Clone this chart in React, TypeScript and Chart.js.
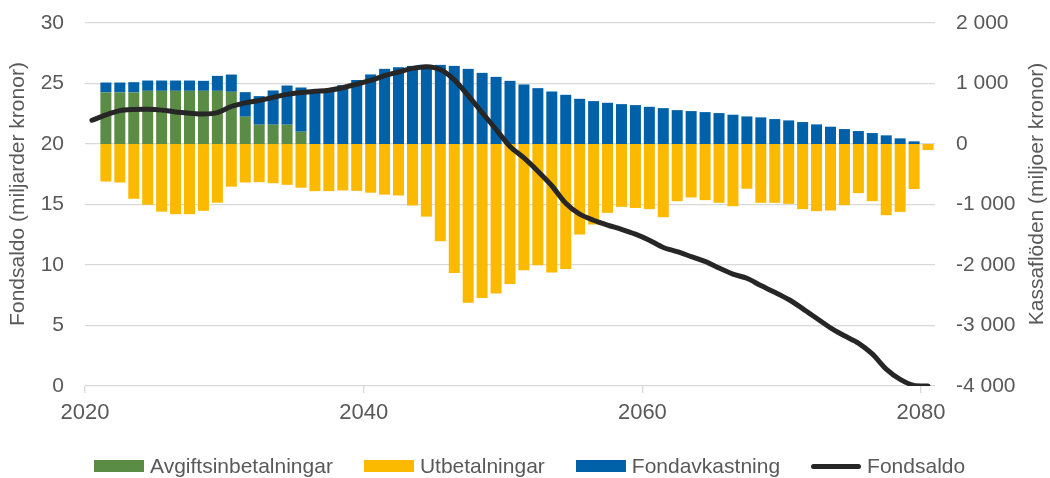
import React, { useEffect, useRef } from "react";
import { Chart, registerables } from "chart.js";

Chart.register(...registerables);

// Bar years (cash flows), 2021..2080
const barYears = [
  2021, 2022, 2023, 2024, 2025, 2026, 2027, 2028, 2029, 2030,
  2031, 2032, 2033, 2034, 2035, 2036, 2037, 2038, 2039, 2040,
  2041, 2042, 2043, 2044, 2045, 2046, 2047, 2048, 2049, 2050,
  2051, 2052, 2053, 2054, 2055, 2056, 2057, 2058, 2059, 2060,
  2061, 2062, 2063, 2064, 2065, 2066, 2067, 2068, 2069, 2070,
  2071, 2072, 2073, 2074, 2075, 2076, 2077, 2078, 2079, 2080,
];

// Fund balance years, 2020..2080
const lineYears = [
  2020, 2021, 2022, 2023, 2024, 2025, 2026, 2027, 2028, 2029, 2030,
  2031, 2032, 2033, 2034, 2035, 2036, 2037, 2038, 2039, 2040,
  2041, 2042, 2043, 2044, 2045, 2046, 2047, 2048, 2049, 2050,
  2051, 2052, 2053, 2054, 2055, 2056, 2057, 2058, 2059, 2060,
  2061, 2062, 2063, 2064, 2065, 2066, 2067, 2068, 2069, 2070,
  2071, 2072, 2073, 2074, 2075, 2076, 2077, 2078, 2079, 2080,
];

// miljoner kronor
const avgiftsinbetalningar = [
  852, 852, 852, 879, 879, 879, 879, 879, 879, 863,
  451, 319, 319, 319, 203, 0, 0, 0, 0, 0,
  0, 0, 0, 0, 0, 0, 0, 0, 0, 0,
  0, 0, 0, 0, 0, 0, 0, 0, 0, 0,
  0, 0, 0, 0, 0, 0, 0, 0, 0, 0,
  0, 0, 0, 0, 0, 0, 0, 0, 0, 0,
];

const utbetalningar = [
  -620, -636, -906, -1005, -1118, -1160, -1160, -1105, -970, -705,
  -636, -630, -648, -675, -722, -779, -779, -768, -775, -805,
  -837, -851, -1016, -1200, -1608, -2133, -2624, -2547, -2470, -2315,
  -2088, -2006, -2122, -2066, -1497, -1331, -1138, -1039, -1058, -1077,
  -1210, -945, -884, -928, -972, -1028, -740, -972, -972, -989,
  -1077, -1110, -1099, -1011, -812, -945, -1177, -1122, -744, -100,
];

const fondavkastning = [
  164, 164, 170, 170, 170, 170, 170, 165, 247, 285,
  406, 472, 566, 648, 731, 860, 880, 973, 1058, 1150,
  1242, 1269, 1291, 1297, 1308, 1291, 1242, 1176, 1110, 1044,
  984, 923, 868, 813, 747, 709, 681, 659, 643, 615,
  593, 560, 544, 527, 511, 484, 456, 440, 412, 390,
  363, 324, 286, 247, 214, 181, 143, 93, 44, 0,
];

// miljarder kronor
const fondsaldo = [
  21.96, 22.4, 22.76, 22.85, 22.87, 22.8, 22.65, 22.55, 22.48, 22.6, 23.1,
  23.4, 23.6, 23.85, 24.1, 24.25, 24.35, 24.45, 24.65, 24.95, 25.25,
  25.65, 25.95, 26.25, 26.39, 26.15, 25.3, 24.0, 22.6, 21.2, 19.8,
  18.85, 17.75, 16.55, 15.1, 14.2, 13.7, 13.3, 12.95, 12.55, 12.05,
  11.45, 11.1, 10.7, 10.3, 9.75, 9.25, 8.9, 8.3, 7.75, 7.15,
  6.4, 5.6, 4.8, 4.15, 3.55, 2.65, 1.4, 0.55, 0.05, 0.0,
];

const xTickYears = [2020, 2040, 2060, 2080];
const leftTicks = [0, 5, 10, 15, 20, 25, 30];
const rightTicks = [-4000, -3000, -2000, -1000, 0, 1000, 2000];

const LEFT_TITLE = "Fondsaldo (miljarder kronor)";
const RIGHT_TITLE = "Kassaflöden (miljoer kronor)";

const COLORS = {
  green: "#5b8c46",
  yellow: "#fbb900",
  blue: "#0060a8",
  line: "#262626",
  grid: "#d9d9d9",
  text: "#595959",
};

const FONT = "'Liberation Sans', Arial, Helvetica, sans-serif";
const FS = 21;

const legendItems = [
  { label: "Avgiftsinbetalningar", color: COLORS.green, kind: "box" },
  { label: "Utbetalningar", color: COLORS.yellow, kind: "box" },
  { label: "Fondavkastning", color: COLORS.blue, kind: "box" },
  { label: "Fondsaldo", color: COLORS.line, kind: "line" },
];

function fmtThousands(v: number): string {
  const s = Math.abs(v).toString().replace(/\B(?=(\d{3})+(?!\d))/g, " ");
  return (v < 0 ? "-" : "") + s;
}

const axisTitlesPlugin = {
  id: "axisTitles",
  afterDraw(chart: any) {
    const ctx = chart.ctx;
    const cy = 194;
    ctx.save();
    ctx.font = `${FS}px ${FONT}`;
    ctx.fillStyle = COLORS.text;
    ctx.textAlign = "center";
    ctx.textBaseline = "middle";
    ctx.translate(18, cy);
    ctx.rotate(-Math.PI / 2);
    ctx.fillText(LEFT_TITLE, 0, 0);
    ctx.restore();
    ctx.save();
    ctx.font = `${FS}px ${FONT}`;
    ctx.fillStyle = COLORS.text;
    ctx.textAlign = "center";
    ctx.textBaseline = "middle";
    ctx.translate(chart.width - 13, cy);
    ctx.rotate(-Math.PI / 2);
    ctx.fillText(RIGHT_TITLE, 0, 0);
    ctx.restore();
  },
};

export default function App() {
  const canvasRef = useRef<HTMLCanvasElement | null>(null);

  useEffect(() => {
    if (!canvasRef.current) return;
    const toXY = (xs: number[], ys: number[]) =>
      ys.map((y, i) => ({ x: xs[i] + 0.5, y }));

    const barCommon = {
      yAxisID: "y1",
      order: 1,
      barPercentage: 0.79,
      categoryPercentage: 1,
      borderWidth: 0,
    };

    const chart = new Chart(canvasRef.current, {
      type: "bar",
      data: {
        datasets: [
          {
            type: "bar",
            label: "Avgiftsinbetalningar",
            data: toXY(barYears, avgiftsinbetalningar),
            backgroundColor: COLORS.green,
            ...barCommon,
          },
          {
            type: "bar",
            label: "Utbetalningar",
            data: toXY(barYears, utbetalningar),
            backgroundColor: COLORS.yellow,
            ...barCommon,
          },
          {
            type: "bar",
            label: "Fondavkastning",
            data: toXY(barYears, fondavkastning),
            backgroundColor: COLORS.blue,
            ...barCommon,
          },
          {
            type: "line",
            label: "Fondsaldo",
            data: toXY(lineYears, fondsaldo),
            borderColor: COLORS.line,
            backgroundColor: COLORS.line,
            borderWidth: 5,
            borderCapStyle: "round",
            borderJoinStyle: "round",
            pointRadius: 0,
            tension: 0.3,
            yAxisID: "y",
            order: 0,
          } as any,
        ],
      },
      plugins: [axisTitlesPlugin],
      options: {
        responsive: false,
        animation: false,
        layout: { padding: { top: 23, bottom: 40, left: 0, right: 0 } },
        plugins: {
          legend: { display: false },
          tooltip: { enabled: false },
        },
        scales: {
          x: {
            type: "linear",
            stacked: true,
            offset: false,
            min: 2020,
            max: 2081,
            afterBuildTicks: (scale: any) => {
              scale.ticks = xTickYears.map((v) => ({ value: v }));
            },
            afterFit: (scale: any) => {
              scale.height = 52;
              scale.paddingLeft = 0;
              scale.paddingRight = 0;
            },
            ticks: {
              color: COLORS.text,
              font: { family: FONT, size: 22 },
              padding: 7,
              maxRotation: 0,
              autoSkip: false,
              callback: (v: any) => String(v),
            },
            grid: {
              offset: false,
              drawOnChartArea: false,
              drawTicks: true,
              tickLength: 7,
              color: COLORS.grid,
              lineWidth: 1.3,
            },
            border: { display: false },
          },
          y: {
            type: "linear",
            position: "left",
            min: 0,
            max: 30,
            afterBuildTicks: (scale: any) => {
              scale.ticks = leftTicks.map((v) => ({ value: v }));
            },
            afterFit: (scale: any) => {
              scale.width = 85;
              scale.paddingTop = 0;
              scale.paddingBottom = 0;
            },
            ticks: {
              color: COLORS.text,
              font: { family: FONT, size: FS },
              padding: 21,
            },
            grid: {
              color: COLORS.grid,
              lineWidth: 1.3,
              drawTicks: false,
            },
            border: { display: false },
          },
          y1: {
            type: "linear",
            position: "right",
            stacked: true,
            min: -4000,
            max: 2000,
            afterBuildTicks: (scale: any) => {
              scale.ticks = rightTicks.map((v) => ({ value: v }));
            },
            afterFit: (scale: any) => {
              scale.width = 115;
              scale.paddingTop = 0;
              scale.paddingBottom = 0;
            },
            ticks: {
              color: COLORS.text,
              font: { family: FONT, size: FS },
              padding: 21,
              callback: (v: any) => fmtThousands(Number(v)),
            },
            grid: { display: false, drawTicks: false },
            border: { display: false },
          },
        },
      } as any,
    });
    return () => chart.destroy();
  }, []);

  return (
    <div
      style={{
        position: "absolute",
        left: 0,
        top: 0,
        width: 1050,
        height: 478,
        background: "#ffffff",
        overflow: "hidden",
      }}
    >
      <canvas ref={canvasRef} width={1050} height={478} style={{ display: "block" }} />
      <div
        style={{
          position: "absolute",
          left: 94,
          top: 454,
          display: "flex",
          alignItems: "center",
          gap: 31,
          fontFamily: FONT,
          fontSize: FS,
          color: COLORS.text,
          whiteSpace: "nowrap",
          lineHeight: "24px",
        }}
      >
        {legendItems.map((it) => (
          <div key={it.label} style={{ display: "flex", alignItems: "center", gap: 6 }}>
            <span
              style={{
                display: "inline-block",
                width: 50,
                height: it.kind === "line" ? 5 : 12,
                borderRadius: it.kind === "line" ? 3 : 0,
                background: it.color,
              }}
            />
            <span>{it.label}</span>
          </div>
        ))}
      </div>
    </div>
  );
}
